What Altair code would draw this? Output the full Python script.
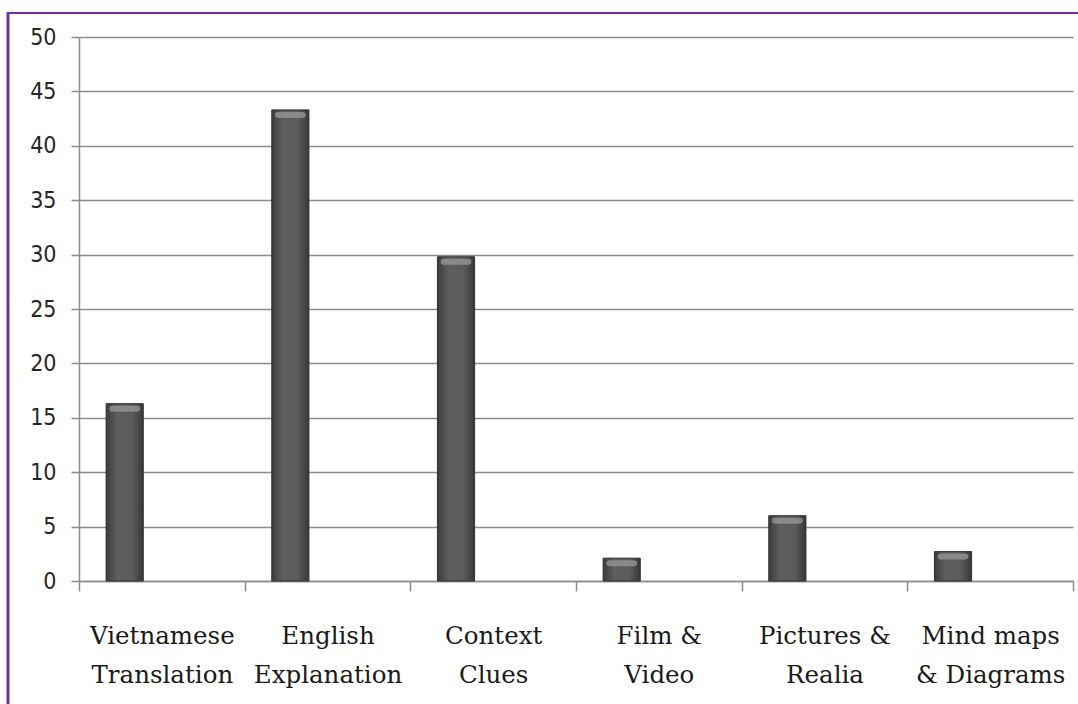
import altair as alt
import pandas as pd

# Vocabulary-teaching techniques and the share of responses (%) for each
techniques = [
    "Vietnamese|Translation",
    "English|Explanation",
    "Context|Clues",
    "Film &|Video",
    "Pictures &|Realia",
    "Mind maps|& Diagrams",
]
percent = [16.3, 43.3, 29.8, 2.1, 6.0, 2.7]
series_names = ["Series1", "Series2", "Series3"]
y_ticks = [0, 5, 10, 15, 20, 25, 30, 35, 40, 45, 50]

df = pd.DataFrame({
    "technique": techniques,
    "percent": percent,
    "series": [series_names[0]] * len(techniques),
})

W, H = 994, 544
GRID = "#8c8c8c"
SERIF = "DejaVu Serif"

x_enc = alt.X(
    "technique:N",
    sort=techniques,
    scale=alt.Scale(paddingInner=0, paddingOuter=0),
    axis=alt.Axis(
        title=None,
        labelAngle=0,
        labelExpr="split(datum.label, '|')",
        labelFont=SERIF,
        labelFontSize=24.5,
        labelLineHeight=39,
        labelColor="#1a1a1a",
        labelBaseline="alphabetic",
        labelPadding=52,
        labelOverlap=False,
        labelBound=False,
        tickBand="extent",
        tickSize=10,
        tickColor=GRID,
        tickWidth=1.5,
        domainColor=GRID,
        domainWidth=1.5,
        grid=False,
    ),
)
xoff_enc = alt.XOffset(
    "series:N",
    scale=alt.Scale(domain=series_names, paddingInner=0, paddingOuter=0.73),
)
y_enc = alt.Y(
    "percent:Q",
    scale=alt.Scale(domain=[0, 50], nice=False),
    axis=alt.Axis(
        title=None,
        values=y_ticks,
        labelFont="DejaVu Sans Condensed",
        labelFontSize=23,
        labelColor="#262626",
        labelPadding=15,
        tickSize=8,
        tickColor=GRID,
        tickWidth=1.5,
        domainColor=GRID,
        domainWidth=1.5,
        grid=True,
        gridColor=GRID,
        gridWidth=1.5,
    ),
)

bar_fill = alt.Gradient(
    gradient="linear",
    x1=0, x2=1, y1=0, y2=0,
    stops=[
        alt.GradientStop(color="#3c3c3c", offset=0),
        alt.GradientStop(color="#5e5e5e", offset=0.3),
        alt.GradientStop(color="#5c5c5c", offset=0.7),
        alt.GradientStop(color="#383838", offset=1),
    ],
)

bars = alt.Chart(df).mark_bar(
    color=bar_fill, stroke="#2e2e2e", strokeWidth=1
).encode(x=x_enc, xOffset=xoff_enc, y=y_enc)

# soft bevel highlight along the top of each bar
bevel = alt.Chart(df).mark_tick(
    color="#9a9a9a", size=31, thickness=6, yOffset=5, opacity=0.75, cornerRadius=3
).encode(x=alt.X("technique:N", sort=techniques), xOffset=xoff_enc, y="percent:Q")

frame = alt.Chart(df).mark_rect(
    fill=None, stroke="#7030A0", strokeWidth=2.2
).encode(
    x=alt.value(-71), x2=alt.value(1200),
    y=alt.value(-24), y2=alt.value(900),
)

chart = (
    alt.layer(bars, bevel, frame)
    .properties(
        width=W,
        height=H,
        autosize=alt.AutoSizeParams(type="none"),
        padding={"left": 79, "top": 37, "right": 5, "bottom": 123},
        background="white",
    )
    .configure_view(stroke=None)
)

chart.save("out.html", embed_options={"renderer": "svg", "actions": False})
